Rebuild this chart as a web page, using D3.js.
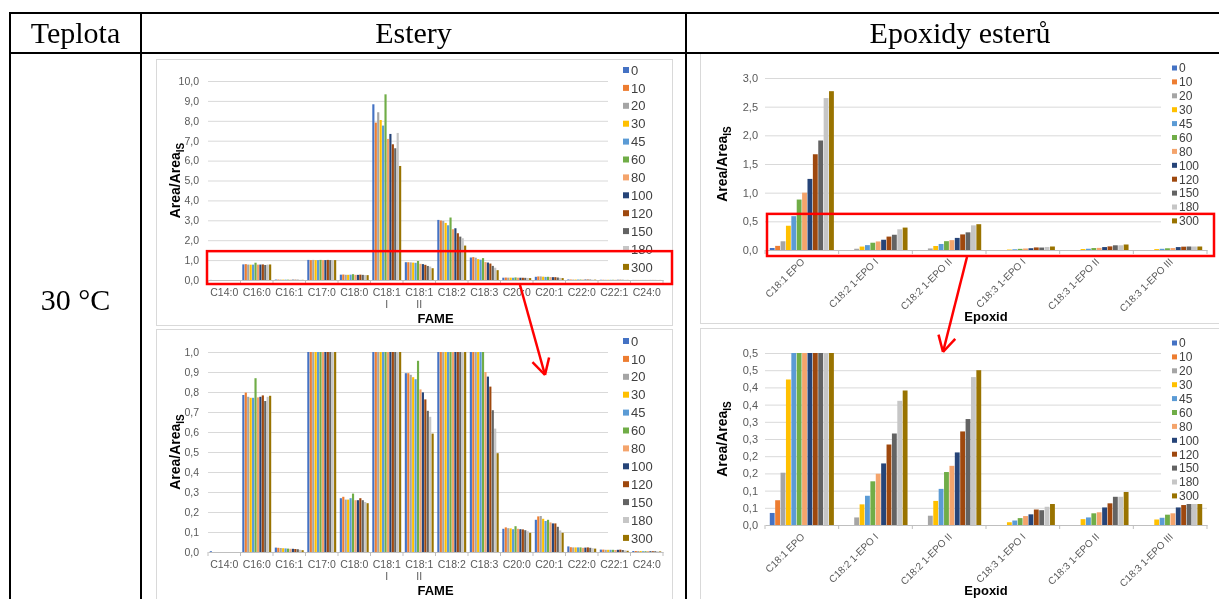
<!DOCTYPE html>
<html>
<head>
<meta charset="utf-8">
<script src="https://cdn.jsdelivr.net/npm/d3@7"></script>
<style>
body { margin: 0; background: #fff; }
svg { display: block; font-family: Arial, "Liberation Sans", sans-serif; will-change: transform; }
</style>
</head>
<body>
<script>
// reaction time series (min)
var seriesNames = ['0', '10', '20', '30', '45', '60', '80', '100', '120', '150', '180', '300'];
var seriesColors = ['#4472c4', '#ed7d31', '#a5a5a5', '#ffc000', '#5b9bd5', '#70ad47',
	'#f4a46c', '#264478', '#9e480e', '#636363', '#c6c6c6', '#997300'];

// FAME, Area/Area_IS, one array per category (series order as above)
var fameCategories = ['C14:0', 'C16:0', 'C16:1', 'C17:0', 'C18:0', 'C18:1 I', 'C18:1 II',
	'C18:2', 'C18:3', 'C20:0', 'C20:1', 'C22:0', 'C22:1', 'C24:0'];
var c14_0 = [0.004, 0, 0, 0, 0, 0, 0, 0, 0, 0, 0, 0];
var c16_0 = [0.785, 0.797, 0.776, 0.771, 0.771, 0.869, 0.773, 0.776, 0.783, 0.755, 0.776, 0.781];
var c16_1 = [0.022, 0.021, 0.020, 0.019, 0.018, 0.017, 0.016, 0.016, 0.015, 0.014, 0.011, 0.009];
var c17_0 = [1.01, 1.00, 1.01, 1.00, 1.00, 1.01, 1.00, 1.00, 1.01, 1.00, 1.00, 1.00];
var c18_0 = [0.269, 0.276, 0.262, 0.262, 0.269, 0.292, 0.259, 0.259, 0.269, 0.259, 0.250, 0.244];
var c18_1a = [8.83, 7.91, 8.43, 8.04, 7.76, 9.33, 7.09, 7.34, 6.82, 6.62, 7.39, 5.73];
var c18_1b = [0.894, 0.894, 0.886, 0.874, 0.864, 0.956, 0.813, 0.798, 0.763, 0.706, 0.676, 0.592];
var c18_2 = [3.02, 2.99, 2.97, 2.87, 2.75, 3.14, 2.55, 2.60, 2.35, 2.18, 2.10, 1.73];
var c18_3 = [1.13, 1.15, 1.12, 1.05, 1.02, 1.10, 0.90, 0.877, 0.827, 0.709, 0.617, 0.494];
var c20_0 = [0.116, 0.123, 0.119, 0.118, 0.114, 0.129, 0.116, 0.114, 0.113, 0.109, 0.104, 0.096];
var c20_1 = [0.161, 0.178, 0.180, 0.166, 0.155, 0.161, 0.148, 0.143, 0.143, 0.126, 0.108, 0.096];
var c22_0 = [0.028, 0.024, 0.023, 0.023, 0.023, 0.023, 0.021, 0.022, 0.023, 0.021, 0.019, 0.017];
var c22_1 = [0.012, 0.012, 0.011, 0.011, 0.011, 0.011, 0.010, 0.011, 0.012, 0.010, 0.008, 0.006];
var c24_0 = [0.005, 0.005, 0.005, 0.005, 0.004, 0.004, 0.004, 0.004, 0.004, 0.004, 0.003, 0.003];
var fameValues = [c14_0, c16_0, c16_1, c17_0, c18_0, c18_1a, c18_1b, c18_2, c18_3, c20_0, c20_1, c22_0, c22_1, c24_0];

// epoxides of the esters
var epoCategories = ['C18:1 EPO', 'C18:2 1-EPO I', 'C18:2 1-EPO II', 'C18:3 1-EPO I', 'C18:3 1-EPO II', 'C18:3 1-EPO III'];
var epo18_1 = [0.035, 0.072, 0.152, 0.423, 0.59, 0.88, 1.00, 1.24, 1.67, 1.91, 2.65, 2.77];
var epo18_2a = [0, 0, 0.022, 0.060, 0.085, 0.127, 0.149, 0.179, 0.234, 0.266, 0.361, 0.391];
var epo18_2b = [0, 0, 0.027, 0.070, 0.105, 0.154, 0.172, 0.211, 0.272, 0.308, 0.430, 0.450];
var epo18_3a = [0, 0, 0, 0.008, 0.013, 0.020, 0.026, 0.031, 0.045, 0.043, 0.053, 0.061];
var epo18_3b = [0, 0, 0, 0.017, 0.022, 0.034, 0.037, 0.051, 0.063, 0.082, 0.082, 0.096];
var epo18_3c = [0, 0, 0, 0.016, 0.021, 0.030, 0.034, 0.051, 0.058, 0.061, 0.061, 0.061];
var epoValues = [epo18_1, epo18_2a, epo18_2b, epo18_3a, epo18_3b, epo18_3c];

// axis ticks and their labels
var esterTicks = [0, 1, 2, 3, 4, 5, 6, 7, 8, 9, 10];
var esterTickLabels = ['0,0', '1,0', '2,0', '3,0', '4,0', '5,0', '6,0', '7,0', '8,0', '9,0', '10,0'];
var esterZoomTicks = [0, 0.1, 0.2, 0.3, 0.4, 0.5, 0.6, 0.7, 0.8, 0.9, 1.0];
var esterZoomTickLabels = ['0,0', '0,1', '0,2', '0,3', '0,4', '0,5', '0,6', '0,7', '0,8', '0,9', '1,0'];
var epoTicks = [0, 0.5, 1, 1.5, 2, 2.5, 3];
var epoTickLabels = ['0,0', '0,5', '1,0', '1,5', '2,0', '2,5', '3,0'];
var epoZoomTicks = [0, 0.05, 0.1, 0.15, 0.2, 0.25, 0.3, 0.35, 0.4, 0.45, 0.5];
var epoZoomTickLabels = ['0,0', '0,1', '0,1', '0,2', '0,2', '0,3', '0,3', '0,4', '0,4', '0,5', '0,5'];

var W = 1219, H = 599;
var svg = d3.select('body').append('svg').attr('width', W).attr('height', H);
svg.append('rect').attr('width', W).attr('height', H).attr('fill', '#fff');

// chart panel frames
var frames = [[156, 59, 516, 266], [156, 329, 516, 300], [700, 53, 600, 270], [700, 328, 600, 300]];
frames.forEach(function(f) {
	svg.append('rect').attr('x', f[0] + 0.5).attr('y', f[1] + 0.5).attr('width', f[2]).attr('height', f[3])
		.attr('fill', '#fff').attr('stroke', '#d9d9d9');
});

function drawPanel(o) {
	var g = svg.append('g');
	var x0 = d3.scaleBand().domain(o.categories).range([o.left, o.right])
		.paddingInner(o.pad).paddingOuter(o.pad / 2);
	var x1 = d3.scaleBand().domain(seriesNames).range([0, x0.bandwidth()]).paddingInner(o.barGap);
	var y = d3.scaleLinear().domain([0, o.yMax]).range([o.bottom, o.top]).clamp(true);

	// gridlines
	g.append('g')
		.attr('transform', 'translate(' + o.left + ',0)')
		.call(d3.axisLeft(y).tickValues(o.ticks.slice(1)).tickSize(-(o.right - o.left)).tickFormat(''))
		.call(function(s) {
			s.select('.domain').remove();
			s.selectAll('line').attr('stroke', '#d9d9d9');
		});

	// y labels
	g.append('g')
		.attr('transform', 'translate(' + o.left + ',0)')
		.call(d3.axisLeft(y).tickValues(o.ticks).tickSize(0).tickPadding(o.yPad)
			.tickFormat(function(d, i) { return o.tickLabels[i]; }))
		.call(function(s) {
			s.select('.domain').remove();
			s.selectAll('text').attr('fill', '#595959').style('font-size', o.tickFont + 'px')
				.style('font-family', 'Arial, "Liberation Sans", sans-serif');
		});

	// bars
	var groups = g.append('g').selectAll('g')
		.data(o.values)
		.join('g')
			.attr('transform', function(d, i) { return 'translate(' + x0(o.categories[i]) + ',0)'; });
	groups.selectAll('rect')
		.data(function(d) { return d; })
		.join('rect')
			.attr('x', function(d, i) { return x1(seriesNames[i]); })
			.attr('width', x1.bandwidth())
			.attr('y', function(d) { return y(d); })
			.attr('height', function(d) { return y(0) - y(d); })
			.attr('fill', function(d, i) { return seriesColors[i]; });

	// category axis (Excel style ticks between categories)
	var xAxis = g.append('g')
		.attr('transform', 'translate(0,' + o.bottom + ')')
		.call(d3.axisBottom(x0).tickSize(0).tickPadding(o.xPad))
		.call(function(s) {
			s.select('.domain').attr('stroke', '#bfbfbf');
			s.selectAll('text').attr('fill', '#595959').style('font-size', o.xFont + 'px')
				.style('font-family', 'Arial, "Liberation Sans", sans-serif');
		});
	var step = x0.step();
	d3.range(o.categories.length + 1).forEach(function(i) {
		var bx = o.left + i * step;
		xAxis.append('line').attr('x1', bx).attr('x2', bx).attr('y1', 0).attr('y2', 4).attr('stroke', '#bfbfbf');
	});

	if (o.rotate) {
		xAxis.selectAll('.tick text')
			.attr('text-anchor', 'end')
			.attr('y', 0)
			.attr('dy', '0.35em')
			.attr('transform', 'translate(1,' + o.xPad + ') rotate(-45)');
	} else {
		xAxis.selectAll('.tick text').each(function(d) {
			var parts = d.split(' ');
			var t = d3.select(this).text(parts[0]);
			if (parts.length > 1) {
				t.append('tspan').attr('x', 0).attr('dy', '1.1em').attr('fill', '#595959').text(parts[1]);
			}
		});
	}

	// legend box over plot area
	g.append('rect').attr('x', o.legendBox[0]).attr('y', o.legendBox[1])
		.attr('width', o.legendBox[2]).attr('height', o.legendBox[3]).attr('fill', '#fff');
	var lg = g.append('g').selectAll('g')
		.data(seriesNames)
		.join('g')
			.attr('transform', function(d, i) { return 'translate(' + o.legendX + ',' + (o.legendY + i * o.legendStep) + ')'; });
	lg.append('rect')
		.attr('x', 0).attr('y', -o.legendSize / 2)
		.attr('width', o.legendSize).attr('height', o.legendSize)
		.attr('fill', function(d, i) { return seriesColors[i]; });
	lg.append('text')
		.attr('x', o.legendSize + 2).attr('dy', '0.36em')
		.style('font-size', o.legendFont + 'px').attr('fill', '#404040')
		.text(function(d) { return d; });

	// axis titles
	var yt = g.append('text')
		.attr('transform', 'translate(' + o.yTitleX + ',' + ((o.top + o.bottom) / 2) + ') rotate(-90)')
		.attr('text-anchor', 'middle')
		.style('font-size', '14px').style('font-weight', 'bold').attr('fill', '#000');
	yt.append('tspan').text('Area/Area');
	yt.append('tspan').attr('dy', 4).style('font-size', '10px').text('IS');

	g.append('text')
		.attr('x', (o.left + o.right) / 2).attr('y', o.xTitleY)
		.attr('text-anchor', 'middle')
		.style('font-size', '13px').style('font-weight', 'bold').attr('fill', '#000')
		.text(o.xTitle);

	return { x: x0, y: y };
}

var leftOpts = {
	categories: fameCategories, values: fameValues,
	left: 208, right: 663, pad: 0.11, barGap: 0.12,
	yPad: 9, tickFont: 10.5, xFont: 10.5, xPad: 9, rotate: false,
	legendX: 623, legendSize: 6, legendStep: 17.9, legendFont: 13,
	yTitleX: 180, xTitle: 'FAME'
};
var rightOpts = {
	categories: epoCategories, values: epoValues,
	left: 765, right: 1207, pad: 0.13, barGap: 0.1,
	yPad: 7, tickFont: 11, xFont: 10, xPad: 10, rotate: true,
	legendX: 1172, legendSize: 5, legendStep: 13.9, legendFont: 12,
	yTitleX: 727, xTitle: 'Epoxid'
};

var tl = drawPanel(Object.assign({}, leftOpts, {
	top: 81, bottom: 280, yMax: 10, ticks: esterTicks, tickLabels: esterTickLabels,
	legendY: 70, legendBox: [608, 61, 63, 214], xTitleY: 323
}));
var bl = drawPanel(Object.assign({}, leftOpts, {
	top: 352, bottom: 552, yMax: 1, ticks: esterZoomTicks, tickLabels: esterZoomTickLabels,
	legendY: 341, legendBox: [608, 331, 63, 216], xTitleY: 595
}));
var tr = drawPanel(Object.assign({}, rightOpts, {
	top: 78, bottom: 250, yMax: 3, ticks: epoTicks, tickLabels: epoTickLabels,
	legendY: 68, legendBox: [1161, 60, 58, 168], xTitleY: 321
}));
var br = drawPanel(Object.assign({}, rightOpts, {
	top: 353, bottom: 525, yMax: 0.5, ticks: epoZoomTicks, tickLabels: epoZoomTickLabels,
	legendY: 343, legendBox: [1161, 335, 58, 168], xTitleY: 595
}));

// red annotations: zoomed region and arrows
var red = svg.append('g').attr('fill', 'none').attr('stroke', '#ff0000').attr('stroke-width', 2.5);
red.append('rect').attr('x', 207).attr('y', tl.y(1.45)).attr('width', 465).attr('height', tl.y(0) + 4 - tl.y(1.45));
red.append('rect').attr('x', 767).attr('y', tr.y(0.63)).attr('width', 447).attr('height', tr.y(0) + 6 - tr.y(0.63));

function arrow(x1, y1, x2, y2) {
	red.append('line').attr('x1', x1).attr('y1', y1).attr('x2', x2).attr('y2', y2);
	var a = Math.atan2(y1 - y2, x1 - x2);
	[-0.5, 0.5].forEach(function(da) {
		red.append('line').attr('x1', x2).attr('y1', y2)
			.attr('x2', x2 + 18 * Math.cos(a + da)).attr('y2', y2 + 18 * Math.sin(a + da));
	});
}
arrow(520, 285, 545, 375);
arrow(967, 257, 943, 352);

// table grid
var grid = svg.append('g').attr('stroke', '#000').attr('stroke-width', 2);
grid.append('line').attr('x1', 10).attr('x2', W).attr('y1', 13).attr('y2', 13);
grid.append('line').attr('x1', 10).attr('x2', W).attr('y1', 53).attr('y2', 53);
[10, 141, 686].forEach(function(x) {
	grid.append('line').attr('x1', x).attr('x2', x).attr('y1', 12).attr('y2', H);
});

var serif = '"Liberation Serif", "Times New Roman", serif';
var heads = [['Teplota', 75.5, 43], ['Estery', 413.5, 43], ['Epoxidy esterů', 960, 43], ['30 °C', 75.5, 310]];
heads.forEach(function(h) {
	svg.append('text').attr('x', h[1]).attr('y', h[2]).attr('text-anchor', 'middle')
		.style('font-family', serif).style('font-size', '30px').attr('fill', '#000').text(h[0]);
});
</script>
</body>
</html>
